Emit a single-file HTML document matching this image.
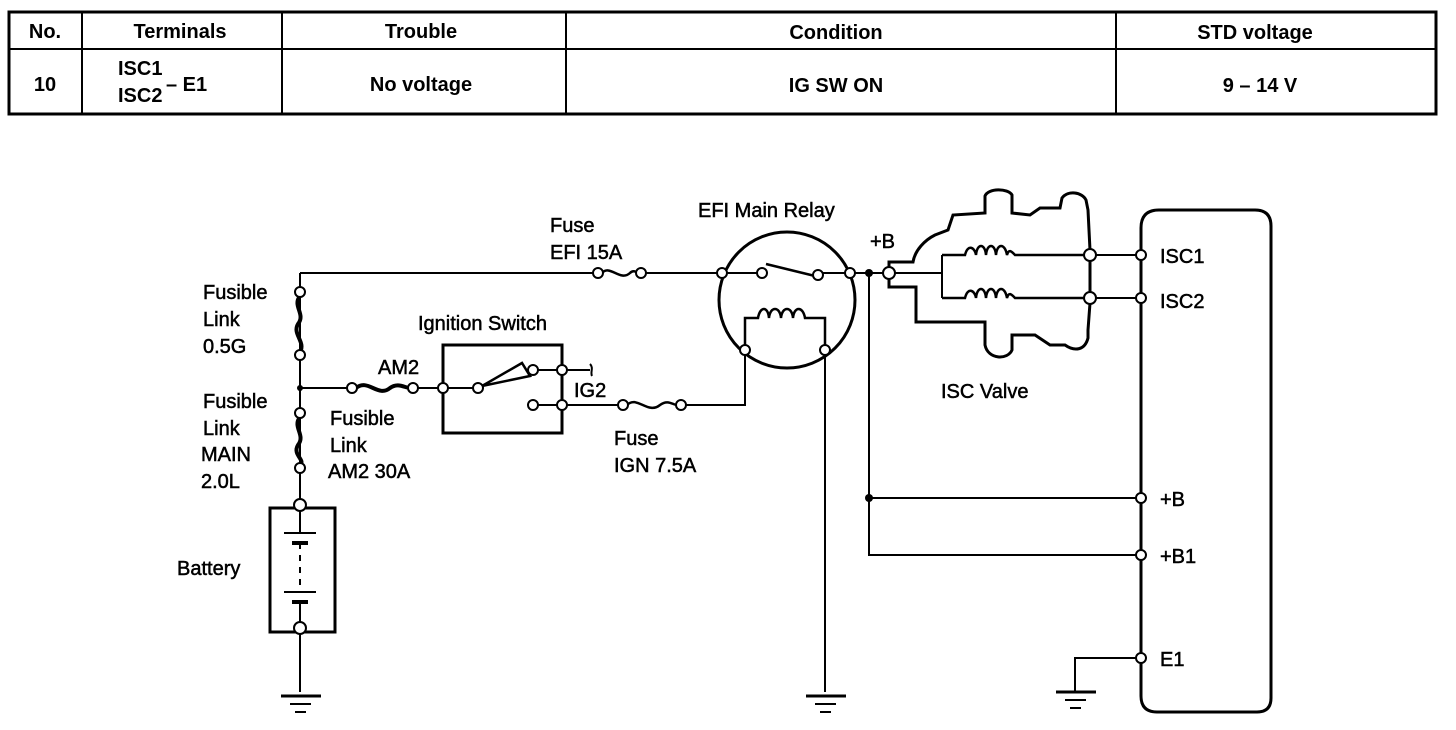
<!DOCTYPE html>
<html><head><meta charset="utf-8"><style>
html,body{margin:0;padding:0;background:#fff;}
svg{display:block;}
text{font-family:"Liberation Sans",Arial,sans-serif;fill:#000;}
.t{font-weight:bold;font-size:20px;}
.l{font-size:20px;stroke:#000;stroke-width:0.5px;}
</style></head><body>
<svg width="1456" height="730" viewBox="0 0 1456 730" xmlns="http://www.w3.org/2000/svg">
<!-- table -->
<g stroke="#000" fill="none">
<rect x="9" y="12" width="1427" height="102" stroke-width="3"/>
<line x1="9" y1="49" x2="1436" y2="49" stroke-width="2"/>
<line x1="82" y1="12" x2="82" y2="114" stroke-width="2"/>
<line x1="282" y1="12" x2="282" y2="114" stroke-width="2"/>
<line x1="566" y1="12" x2="566" y2="114" stroke-width="2"/>
<line x1="1116" y1="12" x2="1116" y2="114" stroke-width="2"/>
</g>
<g class="t" text-anchor="middle">
<text x="45" y="38">No.</text>
<text x="180" y="38">Terminals</text>
<text x="421" y="38">Trouble</text>
<text x="836" y="39">Condition</text>
<text x="1255" y="39">STD voltage</text>
<text x="45" y="91">10</text>
<text x="421" y="91">No voltage</text>
<text x="836" y="92">IG SW ON</text>
<text x="1260" y="92">9 – 14 V</text>
</g>
<g class="t">
<text x="118" y="75">ISC1</text>
<text x="118" y="102">ISC2</text>
<text x="166" y="91">– E1</text>
</g>

<!-- wiring -->
<g stroke="#000" stroke-width="2" fill="none">
<line x1="300" y1="273" x2="300" y2="505"/>
<line x1="300" y1="273" x2="594" y2="273"/>
<line x1="300" y1="628" x2="300" y2="692"/>
<path d="M300 296 C292 306,306 314,298 324 C292 334,306 342,300 352" stroke-width="4"/>
<path d="M300 417 C292 427,306 435,298 445 C292 455,306 460,300 465" stroke-width="4"/>
<line x1="300" y1="388" x2="348" y2="388"/>
<path d="M356 388 C368 378,378 398,390 388 C398 382,405 388,410 388" stroke-width="4"/>
<line x1="417" y1="388" x2="474" y2="388"/>
<path d="M562 358 L562 345 L443 345 L443 433 L562 433 L562 418" stroke-width="3"/>
<line x1="562" y1="345" x2="562" y2="433" stroke-width="3"/>
<path d="M482 386 L522 363 L530 376 Z" stroke-width="2.5"/>
<line x1="537" y1="370" x2="590" y2="370"/>
<path d="M590 364 C594 368,590 372,592 376"/>
<line x1="537" y1="405" x2="619" y2="405"/>
<path d="M627 405 C637 395,648 415,660 405 C668 399,673 405,677 405" stroke-width="2.5"/>
<path d="M685 405 L745 405 L745 354"/>
<path d="M602 273 C610 264,620 282,630 273 C634 269,637 273,638 273" stroke-width="2.5"/>
<line x1="645" y1="273" x2="718" y2="273"/>
<circle cx="787" cy="300" r="68" stroke-width="3"/>
<line x1="726" y1="273" x2="758" y2="273"/>
<line x1="766" y1="264" x2="815" y2="276" stroke-width="2.5"/>
<line x1="822" y1="273" x2="846" y2="273"/>
<path d="M745 346 L745 318 L758 318 C760 306,768 306,769 318 C770 306,780 306,781 318 C782 306,792 306,793 318 C794 306,803 306,805 318 L825 318 L825 346" stroke-width="2.5"/>
<line x1="825" y1="354" x2="825" y2="692"/>
<line x1="854" y1="273" x2="885" y2="273"/>
<path d="M869 273 L869 555 L1137 555"/>
<line x1="869" y1="498" x2="1137" y2="498"/>
<path d="M893 273 L942 273 M942 255 L942 298"/>
<path d="M942 255 L965 255 C968 243,975 248,976 255 C977 243,985 243,986 255 C987 243,995 243,996 255 C997 243,1005 243,1007 255 C1009 248,1012 252,1015 255 L1086 255" stroke-width="2.5"/>
<path d="M942 298 L965 298 C968 286,975 291,976 298 C977 286,985 286,986 298 C987 286,995 286,996 298 C997 286,1005 286,1007 298 C1009 291,1012 295,1015 298 L1086 298" stroke-width="2.5"/>
<line x1="1094" y1="255" x2="1137" y2="255"/>
<line x1="1094" y1="298" x2="1137" y2="298"/>
<path d="M889 269 L889 262 L913 262 C915 250,925 240,935 235 L948 230 L953 215 L985 213 L985 196 C988 188,1008 188,1012 195 L1012 213 L1030 215 L1040 208 L1060 208 L1062 198 C1068 190,1082 192,1086 200 L1088 210 L1090 250" stroke-width="3"/>
<path d="M889 277 L889 287 L916 287 L916 322 L985 322 L985 345 C988 360,1008 360,1012 350 L1012 335 L1035 335 L1050 345 L1065 345 C1075 352,1085 350,1088 338 L1088 330 L1090 303" stroke-width="3"/>
<line x1="1090" y1="260" x2="1090" y2="293" stroke-width="3"/>
<path d="M1141 228 Q1141 210 1159 210 L1255 210 Q1271 210 1271 226 L1271 698 Q1271 712 1257 712 L1157 712 Q1141 712 1141 696 Z" stroke-width="3"/>
<path d="M1137 658 L1075 658 L1075 692"/>
</g>
<g stroke="#000" fill="none">
<rect x="270" y="508" width="65" height="124" stroke-width="3"/>
<line x1="300" y1="509" x2="300" y2="533" stroke-width="2"/>
<line x1="284" y1="533" x2="316" y2="533" stroke-width="2"/>
<line x1="292" y1="543" x2="308" y2="543" stroke-width="4"/>
<line x1="300" y1="543" x2="300" y2="592" stroke-width="2" stroke-dasharray="6 6"/>
<line x1="284" y1="592" x2="316" y2="592" stroke-width="2"/>
<line x1="292" y1="602" x2="308" y2="602" stroke-width="4"/>
<line x1="300" y1="602" x2="300" y2="628" stroke-width="2"/>
</g>
<g stroke="#000">
<line x1="281" y1="696" x2="321" y2="696" stroke-width="3"/><line x1="290" y1="704" x2="311" y2="704" stroke-width="2"/><line x1="295" y1="712" x2="306" y2="712" stroke-width="2"/>
<line x1="806" y1="696" x2="846" y2="696" stroke-width="3"/><line x1="815" y1="704" x2="836" y2="704" stroke-width="2"/><line x1="820" y1="712" x2="831" y2="712" stroke-width="2"/>
<line x1="1056" y1="692" x2="1096" y2="692" stroke-width="3"/><line x1="1065" y1="700" x2="1086" y2="700" stroke-width="2"/><line x1="1070" y1="708" x2="1081" y2="708" stroke-width="2"/>
</g>
<g stroke="#000" stroke-width="2" fill="#fff">
<circle cx="300" cy="292" r="5"/><circle cx="300" cy="355" r="5"/>
<circle cx="300" cy="413" r="5"/><circle cx="300" cy="468" r="5"/>
<circle cx="300" cy="505" r="6"/><circle cx="300" cy="628" r="6"/>
<circle cx="352" cy="388" r="5"/><circle cx="413" cy="388" r="5"/>
<circle cx="443" cy="388" r="5"/><circle cx="478" cy="388" r="5"/>
<circle cx="533" cy="370" r="5"/><circle cx="562" cy="370" r="5"/>
<circle cx="533" cy="405" r="5"/><circle cx="562" cy="405" r="5"/>
<circle cx="623" cy="405" r="5"/><circle cx="681" cy="405" r="5"/>
<circle cx="598" cy="273" r="5"/><circle cx="641" cy="273" r="5"/>
<circle cx="722" cy="273" r="5"/><circle cx="762" cy="273" r="5"/>
<circle cx="818" cy="275" r="5"/><circle cx="850" cy="273" r="5"/>
<circle cx="745" cy="350" r="5"/><circle cx="825" cy="350" r="5"/>
<circle cx="889" cy="273" r="6"/>
<circle cx="1090" cy="255" r="6"/><circle cx="1090" cy="298" r="6"/>
<circle cx="1141" cy="255" r="5"/><circle cx="1141" cy="298" r="5"/>
<circle cx="1141" cy="498" r="5"/><circle cx="1141" cy="555" r="5"/>
<circle cx="1141" cy="658" r="5"/>
</g>
<g fill="#000">
<circle cx="300" cy="388" r="3"/><circle cx="869" cy="273" r="4"/><circle cx="869" cy="498" r="4"/>
</g>
<g class="l">
<text x="203" y="299">Fusible</text>
<text x="203" y="326">Link</text>
<text x="203" y="353">0.5G</text>
<text x="203" y="408">Fusible</text>
<text x="203" y="435">Link</text>
<text x="201" y="461">MAIN</text>
<text x="201" y="488">2.0L</text>
<text x="177" y="575">Battery</text>
<text x="378" y="374">AM2</text>
<text x="330" y="425">Fusible</text>
<text x="330" y="452">Link</text>
<text x="328" y="478">AM2 30A</text>
<text x="418" y="330">Ignition Switch</text>
<text x="574" y="397">IG2</text>
<text x="614" y="445">Fuse</text>
<text x="614" y="472">IGN 7.5A</text>
<text x="550" y="232">Fuse</text>
<text x="550" y="259">EFI 15A</text>
<text x="698" y="217">EFI Main Relay</text>
<text x="870" y="248">+B</text>
<text x="941" y="398">ISC Valve</text>
<text x="1160" y="263">ISC1</text>
<text x="1160" y="308">ISC2</text>
<text x="1160" y="506">+B</text>
<text x="1160" y="563">+B1</text>
<text x="1160" y="666">E1</text>
</g>
</svg>
</body></html>
